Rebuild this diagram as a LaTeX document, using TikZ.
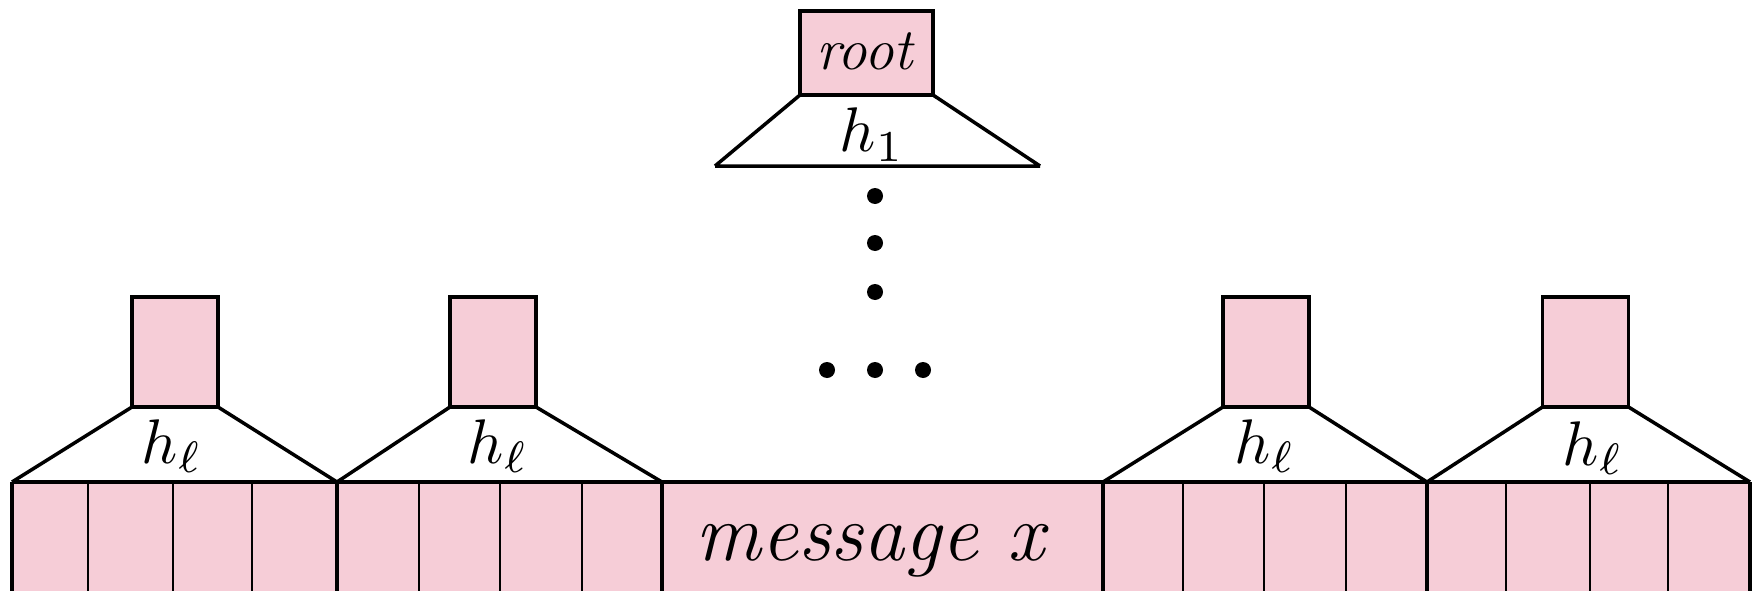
\documentclass[tikz,border=0pt]{standalone}
\usepackage{graphicx}
\usepackage{amsmath}
\definecolor{cellpink}{RGB}{246,205,215}
\begin{document}
\begin{tikzpicture}[x=1pt,y=-1pt,
  thick line/.style={line width=3.5pt, line join=miter},
  thin line/.style={line width=2.2pt},
  hashbox/.style={draw, line width=3.5pt, fill=cellpink, minimum width=#1, minimum height=110pt, inner sep=0pt, outer sep=0pt},
  rootbox/.style={draw, line width=3.5pt, fill=cellpink, minimum width=133pt, minimum height=84pt, inner sep=0pt, outer sep=0pt},
  hlabel/.style={anchor=base, inner sep=0pt},
  dotmark/.style={circle, fill=black, minimum size=16pt, inner sep=0pt}]
\newcommand{\hlab}[1]{\scalebox{6.3}{$#1$}}
\useasboundingbox (0,0) rectangle (1756,591);

% bottom row of cells
\begin{scope}
  \clip (0,0) rectangle (1756,591);
  \fill[cellpink] (12,482) rectangle (1750,640);
  \foreach \x in {88,173,252, 419,500,582, 1183,1264,1346, 1506,1590,1668}
    \draw[thin line] (\x,482) -- (\x,640);
  \foreach \x in {12,337,662,1103,1427,1750}
    \draw[thick line] (\x,482) -- (\x,640);
\end{scope}
\coordinate (base0) at (12,482);
\coordinate (base1) at (337,482);
\coordinate (base2) at (662,482);
\coordinate (base3) at (1103,482);
\coordinate (base4) at (1427,482);
\coordinate (base5) at (1750,482);
\draw[thick line] (base0) -- (base5);

% message label
\node[anchor=base, inner sep=0pt, font=\fontsize{82}{90}\selectfont] (msg) at (872,560) {\textit{message x}};

% leaf hash boxes
\node[hashbox=86pt] (b1) at (175,352) {};
\node[hashbox=86pt] (b2) at (493,352) {};
\node[hashbox=86pt] (b3) at (1266,352) {};
\node[hashbox=86pt] (b4) at (1585.5,352) {};

\draw[thick line] (base0) -- (b1.south west) (b1.south east) -- (base1);
\draw[thick line] (base1) -- (b2.south west) (b2.south east) -- (base2);
\draw[thick line] (base3) -- (b3.south west) (b3.south east) -- (base4);
\draw[thick line] (base4) -- (b4.south west) (b4.south east) -- (base5);

\node[hlabel] (l1) at (172,463) {\hlab{h_\ell}};
\node[hlabel] (l2) at (498,463) {\hlab{h_\ell}};
\node[hlabel] (l3) at (1265,463) {\hlab{h_\ell}};
\node[hlabel] (l4) at (1593,465) {\hlab{h_\ell}};

% root
\node[rootbox] (root) at (866.5,53) {};
\node[anchor=base, inner sep=0pt, font=\fontsize{59}{66}\selectfont] (roottext) at (866,70) {\textit{root}};
\coordinate (rl) at (715,166);
\coordinate (rr) at (1040,166);
\draw[thick line] (rl) -- (root.south west) (root.south east) -- (rr) (rl) -- (rr);
\node[hlabel] (l0) at (872,152) {\hlab{h_1}};

% dots
\node[dotmark] (d1) at (875,196) {};
\node[dotmark] (d2) at (875,243) {};
\node[dotmark] (d3) at (875,292) {};
\node[dotmark] (e1) at (827,370) {};
\node[dotmark] (e2) at (875,370) {};
\node[dotmark] (e3) at (923,370) {};
\end{tikzpicture}
\end{document}
